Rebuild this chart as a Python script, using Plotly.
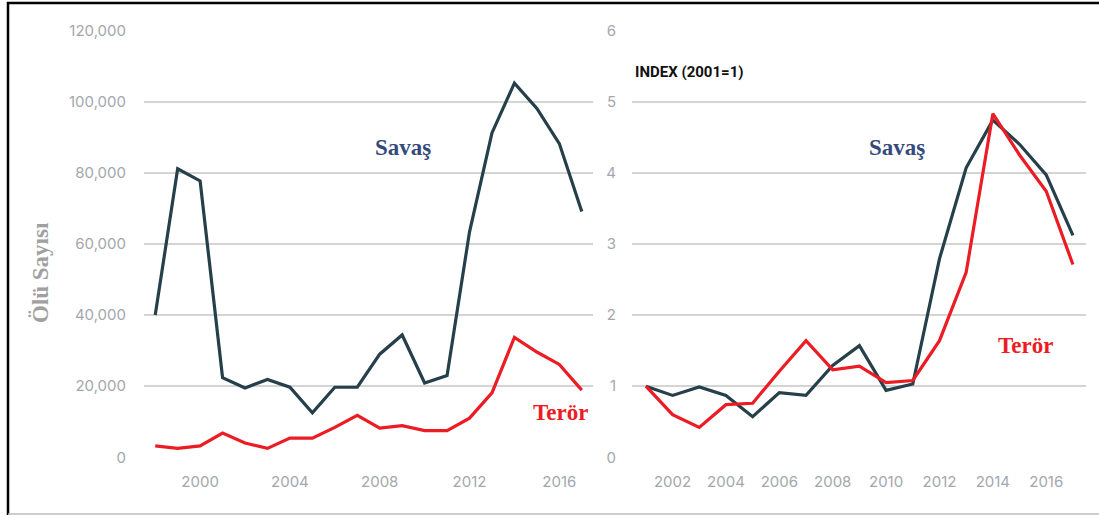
import plotly.graph_objects as go

# ---- data ----
years_left = list(range(1998, 2018))
savas_deaths = [40.0, 81.1, 77.7, 22.4, 19.5, 21.9, 19.7, 12.5, 19.7, 19.7,
                29.0, 34.4, 20.9, 23.0, 63.4, 91.2, 105.2, 98.1, 88.2, 69.1]
teror_deaths = [3.2, 2.5, 3.2, 6.8, 4.0, 2.5, 5.4, 5.4, 8.4, 11.8,
                8.2, 8.9, 7.5, 7.5, 11.0, 18.1, 33.7, 29.6, 26.1, 18.9]
savas_deaths = [v * 1000 for v in savas_deaths]
teror_deaths = [v * 1000 for v in teror_deaths]

years_right = list(range(2001, 2018))
savas_index = [1.0, 0.87, 0.99, 0.87, 0.57, 0.91, 0.87, 1.29, 1.57, 0.94,
               1.03, 2.79, 4.07, 4.74, 4.40, 3.97, 3.12]
teror_index = [1.0, 0.60, 0.42, 0.74, 0.76, 1.21, 1.64, 1.23, 1.28, 1.05,
               1.08, 1.64, 2.60, 4.83, 4.25, 3.74, 2.71]

left_yticks = [0, 20000, 40000, 60000, 80000, 100000, 120000]
left_xticks = [2000, 2004, 2008, 2012, 2016]
right_yticks = [0, 1, 2, 3, 4, 5, 6]
right_xticks = [2002, 2004, 2006, 2008, 2010, 2012, 2014, 2016]

W, H = 1099, 515
SAVAS_C = "#253f4b"
TEROR_C = "#ec1c24"
GRID_C = "#d4d4d4"
TICK_C = "#a3a7ad"

def px(x):
    return x / W

def py(y):
    return 1 - y / H

fig = go.Figure()
fig.add_trace(go.Scatter(x=years_left, y=savas_deaths, mode="lines",
                         line=dict(color=SAVAS_C, width=3.2), xaxis="x", yaxis="y"))
fig.add_trace(go.Scatter(x=years_left, y=teror_deaths, mode="lines",
                         line=dict(color=TEROR_C, width=3.2), xaxis="x", yaxis="y"))
fig.add_trace(go.Scatter(x=years_right, y=savas_index, mode="lines",
                         line=dict(color=SAVAS_C, width=3.2), xaxis="x2", yaxis="y2"))
fig.add_trace(go.Scatter(x=years_right, y=teror_index, mode="lines",
                         line=dict(color=TEROR_C, width=3.2), xaxis="x2", yaxis="y2"))

tickfont = dict(family="Inter, Lato, sans-serif", size=15, color=TICK_C)
ydom = [py(457.3), py(30.5)]

common_x = dict(showgrid=False, zeroline=False, showline=False, ticks="outside",
                ticklen=11, tickcolor="rgba(0,0,0,0)", tickfont=tickfont,
                fixedrange=True, automargin=False)
common_y = dict(showgrid=True, gridcolor=GRID_C, gridwidth=2, zeroline=False,
                showline=False, ticks="outside", tickcolor="rgba(0,0,0,0)",
                tickfont=tickfont, domain=ydom, fixedrange=True, automargin=False)

fig.update_layout(
    template="none",
    width=W, height=H, autosize=False,
    margin=dict(l=0, r=0, t=0, b=0, pad=0),
    paper_bgcolor="white", plot_bgcolor="white",
    showlegend=False,
    xaxis=dict(domain=[px(144), px(593)], range=[1997.5, 2017.5],
               tickvals=left_xticks, anchor="y", **common_x),
    yaxis=dict(range=[0, 120000], tickvals=left_yticks,
               tickformat=",d", ticklen=14, anchor="x", **common_y),
    xaxis2=dict(domain=[px(632), px(1086)], range=[2000.48, 2017.49],
                tickvals=right_xticks, anchor="y2", **common_x),
    yaxis2=dict(range=[0, 6], tickvals=right_yticks, ticklen=12,
                anchor="x2", **common_y),
)

serif = "Liberation Serif, Times New Roman, serif"
annos = [
    dict(text="<b>Savaş</b>", x=px(403), y=py(148), color="#354a7c", size=23),
    dict(text="<b>Savaş</b>", x=px(897), y=py(148), color="#354a7c", size=23),
    dict(text="<b>Terör</b>", x=px(560), y=py(412), color=TEROR_C, size=23),
    dict(text="<b>Terör</b>", x=px(1025), y=py(345), color=TEROR_C, size=23),
]
for a in annos:
    fig.add_annotation(text=a["text"], x=a["x"], y=a["y"], xref="paper", yref="paper",
                       showarrow=False, xanchor="center", yanchor="middle",
                       font=dict(family=serif, size=a["size"], color=a["color"]))

fig.add_annotation(text="<b>Ölü Sayısı</b>", x=px(40), y=py(273), xref="paper", yref="paper",
                   showarrow=False, textangle=-90, xanchor="center", yanchor="middle",
                   font=dict(family=serif, size=23, color="#a0a0a0"))
fig.add_annotation(text="<b>INDEX (2001=1)</b>", x=px(633), y=py(72), xref="paper", yref="paper",
                   showarrow=False, xanchor="left", yanchor="middle",
                   font=dict(family="Roboto, Arial, sans-serif",
                             size=15, color="#111111"))

# frame lines
fig.add_shape(type="line", xref="paper", yref="paper", x0=px(7), x1=1, y0=py(3), y1=py(3),
              line=dict(color="black", width=2.5))
fig.add_shape(type="line", xref="paper", yref="paper", x0=px(8), x1=px(8), y0=py(2), y1=py(515),
              line=dict(color="black", width=2.5))
fig.add_shape(type="line", xref="paper", yref="paper", x0=px(8), x1=1, y0=py(514), y1=py(514),
              line=dict(color="#bdbdbd", width=1.5))

fig.write_html("out.html", config={"displayModeBar": False, "staticPlot": True},
               post_script="document.body.style.margin='0';document.body.style.overflow='hidden';")
